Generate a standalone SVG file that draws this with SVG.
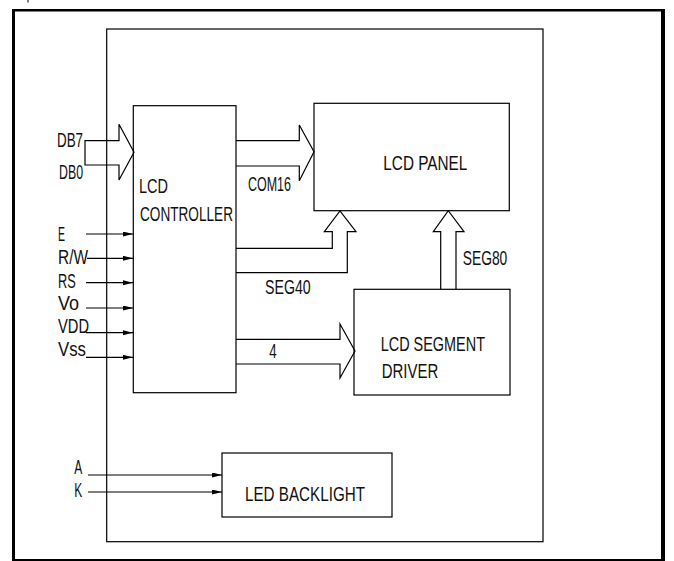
<svg xmlns="http://www.w3.org/2000/svg" width="674" height="561" viewBox="0 0 674 561">
<style>
.box{fill:none;stroke:#000;stroke-width:1.2}
.bus{fill:none;stroke:#000;stroke-width:1.2;stroke-linejoin:miter}
.sig{fill:none;stroke:#000;stroke-width:1.2}
text{font-family:"Liberation Sans",Arial,sans-serif;font-size:21px;fill:#111}
</style>
<defs>
<marker id="ah" markerUnits="userSpaceOnUse" markerWidth="11" markerHeight="6" refX="10" refY="2.5" orient="auto">
<path d="M0,0 L10,2.5 L0,5 Z" fill="#000"/>
</marker>
</defs>
<rect width="674" height="561" fill="#fff"/>
<g id="frame">
<line x1="28" y1="0" x2="28" y2="2.5" stroke="#000" stroke-width="1"/>
<line x1="12" y1="10.3" x2="665" y2="10.3" stroke="#000" stroke-width="2.6"/>
<line x1="13.5" y1="9" x2="13.5" y2="561" stroke="#000" stroke-width="3"/>
<line x1="663" y1="9" x2="663" y2="561" stroke="#000" stroke-width="4"/>
<line x1="12" y1="560" x2="665" y2="560" stroke="#000" stroke-width="2"/>
<rect x="106.7" y="29" width="436.3" height="512.7" class="box"/>
</g>
<g id="controller">
<rect x="133.3" y="105.7" width="102.7" height="287" class="box"/>
<text x="139" y="193" textLength="29" lengthAdjust="spacingAndGlyphs">LCD</text>
<text x="140" y="220.5" textLength="93" lengthAdjust="spacingAndGlyphs">CONTROLLER</text>
</g>
<g id="panel">
<rect x="314" y="103.3" width="195.3" height="107.4" class="box"/>
<text x="383.3" y="170" textLength="84" lengthAdjust="spacingAndGlyphs">LCD PANEL</text>
</g>
<g id="driver">
<rect x="354" y="289.3" width="156" height="105.7" class="box"/>
<text x="380.7" y="350.7" textLength="104.3" lengthAdjust="spacingAndGlyphs">LCD SEGMENT</text>
<text x="381.7" y="377.7" textLength="56.6" lengthAdjust="spacingAndGlyphs">DRIVER</text>
</g>
<g id="backlight">
<rect x="222" y="453" width="170" height="64" class="box"/>
<text x="245" y="501" textLength="120" lengthAdjust="spacingAndGlyphs">LED BACKLIGHT</text>
</g>
<g id="connectors">
<path class="bus" d="M85,140.7 H119 V124.3 L134,152.3 L119,180 V165 H85 Z"/>
<path class="bus" d="M236,140.7 H299.3 V125 L314,151.7 L299.3,180.7 V166 H236"/>
<path class="bus" d="M236,248.3 H332.3 V231.7 H324.3 L340,211 L356,231.7 H347.3 V272.7 H236"/>
<path class="bus" d="M440.7,289.3 V231.7 H433.3 L448.3,210.7 L464,231.7 H456 V289.3"/>
<path class="bus" d="M236,339.3 H340 V324 L355,351 L340,378 V364 H236"/>
<line class="sig" x1="86" y1="234" x2="133" y2="234" marker-end="url(#ah)"/>
<line class="sig" x1="87" y1="258.3" x2="133" y2="258.3" marker-end="url(#ah)"/>
<line class="sig" x1="86" y1="282.7" x2="133" y2="282.7" marker-end="url(#ah)"/>
<line class="sig" x1="86" y1="308" x2="133" y2="308" marker-end="url(#ah)"/>
<line class="sig" x1="86" y1="332.7" x2="133" y2="332.7" marker-end="url(#ah)"/>
<line class="sig" x1="86" y1="357.3" x2="133" y2="357.3" marker-end="url(#ah)"/>
<line class="sig" x1="88" y1="475" x2="222" y2="475" marker-end="url(#ah)"/>
<line class="sig" x1="88" y1="492" x2="222" y2="492" marker-end="url(#ah)"/>
</g>
<g id="labels">
<text x="57" y="147" textLength="26" lengthAdjust="spacingAndGlyphs">DB7</text>
<text x="59" y="179" textLength="24" lengthAdjust="spacingAndGlyphs">DB0</text>
<text x="58" y="241" textLength="7" lengthAdjust="spacingAndGlyphs">E</text>
<text x="58" y="263.5" textLength="30" lengthAdjust="spacingAndGlyphs">R/W</text>
<text x="58" y="288" font-size="19.5" textLength="17.7" lengthAdjust="spacingAndGlyphs">RS</text>
<text x="58" y="310" font-size="17" textLength="21" lengthAdjust="spacingAndGlyphs">Vo</text>
<text x="58" y="333" textLength="31" lengthAdjust="spacingAndGlyphs">VDD</text>
<text x="58" y="356" textLength="28" lengthAdjust="spacingAndGlyphs">Vss</text>
<text x="248" y="190.7" textLength="43" lengthAdjust="spacingAndGlyphs">COM16</text>
<text x="265" y="294.3" textLength="45.7" lengthAdjust="spacingAndGlyphs">SEG40</text>
<text x="462.7" y="265" textLength="44.6" lengthAdjust="spacingAndGlyphs">SEG80</text>
<text x="269.3" y="358" textLength="7.4" lengthAdjust="spacingAndGlyphs">4</text>
<text x="74.3" y="474" textLength="8" lengthAdjust="spacingAndGlyphs">A</text>
<text x="74.3" y="497" textLength="8" lengthAdjust="spacingAndGlyphs">K</text>
</g>
</svg>
